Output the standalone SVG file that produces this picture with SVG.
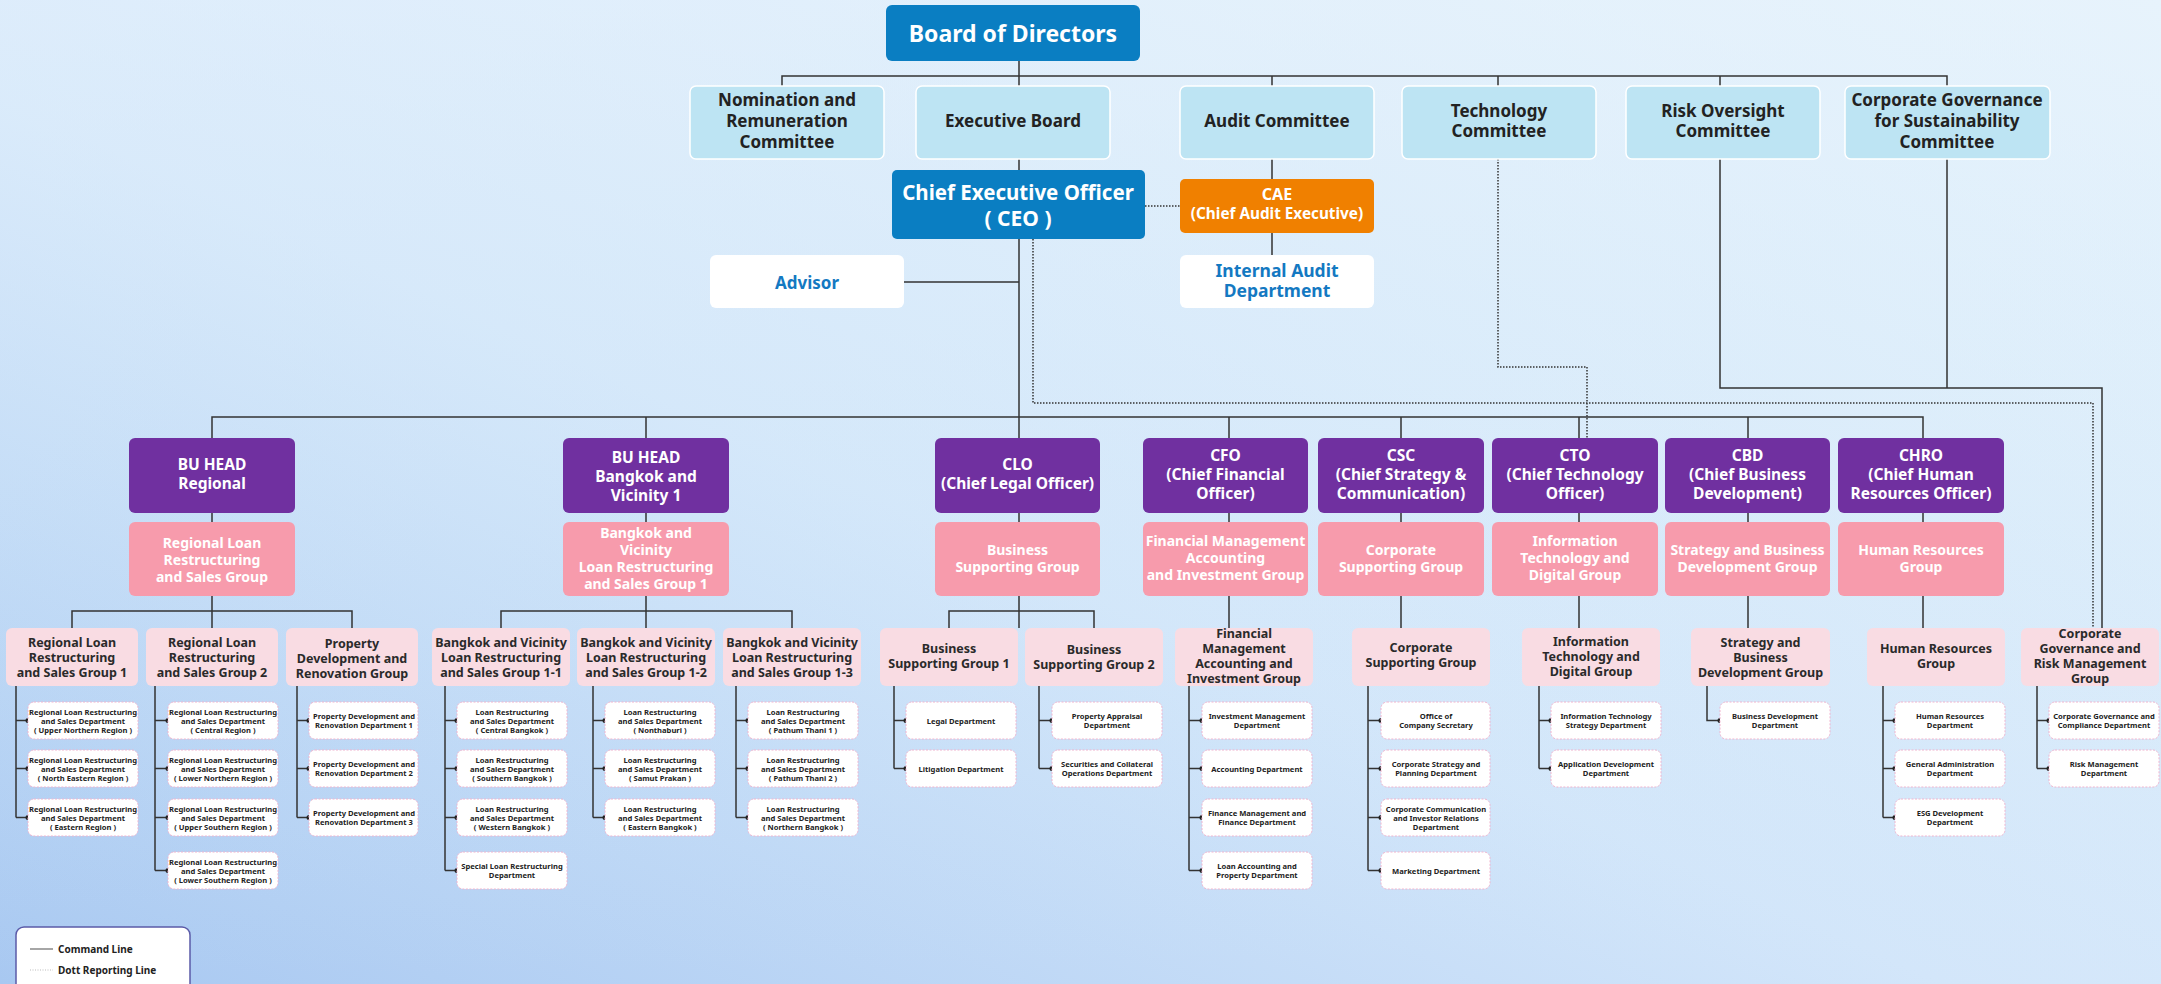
<svg xmlns="http://www.w3.org/2000/svg" width="2161" height="984" viewBox="0 0 2161 984">
<defs>
<linearGradient id="bg" x1="0" y1="1" x2="1" y2="0">
<stop offset="0" stop-color="#A8C8F1"/>
<stop offset="0.45" stop-color="#D3E6FA"/>
<stop offset="1" stop-color="#E8F4FC"/>
</linearGradient>
<linearGradient id="bg2" x1="0" y1="0" x2="0" y2="1">
<stop offset="0" stop-color="#E6F2FC" stop-opacity="0.5"/>
<stop offset="1" stop-color="#C8E6F6" stop-opacity="0"/>
</linearGradient>
</defs>
<style>
.t{font-family:"Noto Sans","Open Sans",sans-serif;font-weight:700;text-anchor:middle;dominant-baseline:central}
.c{font-size:17px;fill:#222}
.p{font-size:15.5px;fill:#fff}
.g{font-size:14px;fill:#fff}
.s{font-size:12.5px;fill:#2a2a2a}
.d{font-size:7.6px;fill:#222}
.ln{stroke:#333;stroke-width:1.5;fill:none}
.dt{stroke:#333;stroke-width:1.5;fill:none;stroke-dasharray:1.5 1.5}
.com{fill:#BDE4F3;stroke:#fff;stroke-width:1.5}
.pur{fill:#7030A0}
.grp{fill:#F79BAC}
.sub{fill:#F9DCE3}
.dep{fill:#fff;stroke:#F0B4CE;stroke-width:1;stroke-dasharray:2 1.5}
.dotc{fill:#222}
</style>
<rect width="2161" height="984" fill="url(#bg)"/>
<rect width="2161" height="984" fill="url(#bg2)"/>

<g id="connectors">
<path class="ln" d="M1019 61V438M782 86V76H1947V86M1272 76V86M1498 76V86M1720 76V86M1272 159V255M904 282H1019M1720 159V388H2102V628M1947 159V388"/>
<path class="ln" d="M212 438V417H1923V438M646 417V438M1229 417V438M1401 417V438M1579 417V438M1748 417V438"/>
<path class="ln" d="M212 513V628M72 628V611H352V628M646 513V628M501 628V611H792V628M1019 513V628M949 628V611H1094V628M1229 513V628M1401 513V628M1579 513V628M1748 513V628M1923 513V628"/>
<path class="dt" d="M1145 206H1180M1033 239V403H2093V628M1498 159V367H1587V438"/>
<path class="ln" d="M16 686V817.5M16 720.5H28M16 768.5H28M16 817.5H28
M155 686V870.5M155 720.5H168M155 768.5H168M155 817.5H168M155 870.5H168
M297 686V817.5M297 720.5H309M297 768.5H309M297 817.5H309
M445 686V870.5M445 720.5H457M445 768.5H457M445 817.5H457M445 870.5H457
M593 686V817.5M593 720.5H605M593 768.5H605M593 817.5H605
M736 686V817.5M736 720.5H748M736 768.5H748M736 817.5H748
M894 686V768.5M894 720.5H906M894 768.5H906
M1039 686V768.5M1039 720.5H1052M1039 768.5H1052
M1189 686V870.5M1189 720.5H1202M1189 768.5H1202M1189 817.5H1202M1189 870.5H1202
M1368 686V870.5M1368 720.5H1381M1368 768.5H1381M1368 817.5H1381M1368 870.5H1381
M1539 686V768.5M1539 720.5H1551M1539 768.5H1551
M1707 686V720.5H1720
M1883 686V817.5M1883 720.5H1895M1883 768.5H1895M1883 817.5H1895
M2037 686V768.5M2037 720.5H2049M2037 768.5H2049"/>
<g class="dotc">
<circle cx="28" cy="720.5" r="2.5"/><circle cx="28" cy="768.5" r="2.5"/><circle cx="28" cy="817.5" r="2.5"/>
<circle cx="168" cy="720.5" r="2.5"/><circle cx="168" cy="768.5" r="2.5"/><circle cx="168" cy="817.5" r="2.5"/><circle cx="168" cy="870.5" r="2.5"/>
<circle cx="309" cy="720.5" r="2.5"/><circle cx="309" cy="768.5" r="2.5"/><circle cx="309" cy="817.5" r="2.5"/>
<circle cx="457" cy="720.5" r="2.5"/><circle cx="457" cy="768.5" r="2.5"/><circle cx="457" cy="817.5" r="2.5"/><circle cx="457" cy="870.5" r="2.5"/>
<circle cx="605" cy="720.5" r="2.5"/><circle cx="605" cy="768.5" r="2.5"/><circle cx="605" cy="817.5" r="2.5"/>
<circle cx="748" cy="720.5" r="2.5"/><circle cx="748" cy="768.5" r="2.5"/><circle cx="748" cy="817.5" r="2.5"/>
<circle cx="906" cy="720.5" r="2.5"/><circle cx="906" cy="768.5" r="2.5"/>
<circle cx="1052" cy="720.5" r="2.5"/><circle cx="1052" cy="768.5" r="2.5"/>
<circle cx="1202" cy="720.5" r="2.5"/><circle cx="1202" cy="768.5" r="2.5"/><circle cx="1202" cy="817.5" r="2.5"/><circle cx="1202" cy="870.5" r="2.5"/>
<circle cx="1381" cy="720.5" r="2.5"/><circle cx="1381" cy="768.5" r="2.5"/><circle cx="1381" cy="817.5" r="2.5"/><circle cx="1381" cy="870.5" r="2.5"/>
<circle cx="1551" cy="720.5" r="2.5"/><circle cx="1551" cy="768.5" r="2.5"/>
<circle cx="1720" cy="720.5" r="2.5"/>
<circle cx="1895" cy="720.5" r="2.5"/><circle cx="1895" cy="768.5" r="2.5"/><circle cx="1895" cy="817.5" r="2.5"/>
<circle cx="2049" cy="720.5" r="2.5"/><circle cx="2049" cy="768.5" r="2.5"/>
</g>
</g>

<g id="board"><rect x="886" y="5" width="254" height="56" rx="6" fill="#0A7EC2"/><text class="t" x="1013" y="33" font-size="23" fill="#fff">Board of Directors</text></g>

<g id="nomination"><rect class="com" x="690" y="86" width="194" height="73" rx="6"/><text class="t c" x="787" y="99">Nomination and</text><text class="t c" x="787" y="120">Remuneration</text><text class="t c" x="787" y="141">Committee</text></g>
<g id="executive-board"><rect class="com" x="916" y="86" width="194" height="73" rx="6"/><text class="t c" x="1013" y="120">Executive Board</text></g>
<g id="audit-committee"><rect class="com" x="1180" y="86" width="194" height="73" rx="6"/><text class="t c" x="1277" y="120">Audit Committee</text></g>
<g id="technology-committee"><rect class="com" x="1402" y="86" width="194" height="73" rx="6"/><text class="t c" x="1499" y="110">Technology</text><text class="t c" x="1499" y="130">Committee</text></g>
<g id="risk-committee"><rect class="com" x="1626" y="86" width="194" height="73" rx="6"/><text class="t c" x="1723" y="110">Risk Oversight</text><text class="t c" x="1723" y="130">Committee</text></g>
<g id="cg-committee"><rect class="com" x="1845" y="86" width="205" height="73" rx="6"/><text class="t c" x="1947" y="99">Corporate Governance</text><text class="t c" x="1947" y="120">for Sustainability</text><text class="t c" x="1947" y="141">Committee</text></g>

<g id="ceo"><rect x="892" y="170" width="253" height="69" rx="5" fill="#0A7EC2"/><text class="t" x="1018" y="192" font-size="20.5" fill="#fff">Chief Executive Officer</text><text class="t" x="1018" y="218" font-size="21" fill="#fff">( CEO )</text></g>
<g id="cae"><rect x="1180" y="179" width="194" height="54" rx="5" fill="#F08000"/><text class="t" x="1277" y="194" font-size="16" fill="#fff">CAE</text><text class="t" x="1277" y="213" font-size="15.3" fill="#fff">(Chief Audit Executive)</text></g>
<g id="internal-audit"><rect x="1180" y="255" width="194" height="53" rx="6" fill="#fff"/><text class="t" x="1277" y="270" font-size="17.5" fill="#1479C2">Internal Audit</text><text class="t" x="1277" y="290" font-size="17.5" fill="#1479C2">Department</text></g>
<g id="advisor"><rect x="710" y="255" width="194" height="53" rx="6" fill="#fff"/><text class="t" x="807" y="282" font-size="17" fill="#1479C2">Advisor</text></g>

<g id="bu-regional"><rect class="pur" x="129" y="438" width="166" height="75" rx="6"/><text class="t p" x="212" y="464">BU HEAD</text><text class="t p" x="212" y="483">Regional</text></g>
<g id="bu-bangkok"><rect class="pur" x="563" y="438" width="166" height="75" rx="6"/><text class="t p" x="646" y="457">BU HEAD</text><text class="t p" x="646" y="476">Bangkok and</text><text class="t p" x="646" y="495">Vicinity 1</text></g>
<g id="clo"><rect class="pur" x="935" y="438" width="165" height="75" rx="6"/><text class="t p" x="1017.5" y="464">CLO</text><text class="t p" x="1017.5" y="483">(Chief Legal Officer)</text></g>
<g id="cfo"><rect class="pur" x="1143" y="438" width="165" height="75" rx="6"/><text class="t p" x="1225.5" y="455">CFO</text><text class="t p" x="1225.5" y="474">(Chief Financial</text><text class="t p" x="1225.5" y="493">Officer)</text></g>
<g id="csc"><rect class="pur" x="1318" y="438" width="166" height="75" rx="6"/><text class="t p" x="1401" y="455">CSC</text><text class="t p" x="1401" y="474">(Chief Strategy &amp;</text><text class="t p" x="1401" y="493">Communication)</text></g>
<g id="cto"><rect class="pur" x="1492" y="438" width="166" height="75" rx="6"/><text class="t p" x="1575" y="455">CTO</text><text class="t p" x="1575" y="474">(Chief Technology</text><text class="t p" x="1575" y="493">Officer)</text></g>
<g id="cbd"><rect class="pur" x="1665" y="438" width="165" height="75" rx="6"/><text class="t p" x="1747.5" y="455">CBD</text><text class="t p" x="1747.5" y="474">(Chief Business</text><text class="t p" x="1747.5" y="493">Development)</text></g>
<g id="chro"><rect class="pur" x="1838" y="438" width="166" height="75" rx="6"/><text class="t p" x="1921" y="455">CHRO</text><text class="t p" x="1921" y="474">(Chief Human</text><text class="t p" x="1921" y="493">Resources Officer)</text></g>

<g id="grp-regional"><rect class="grp" x="129" y="522" width="166" height="74" rx="6"/><text class="t g" x="212" y="542">Regional Loan</text><text class="t g" x="212" y="559">Restructuring</text><text class="t g" x="212" y="576">and Sales Group</text></g>
<g id="grp-bangkok"><rect class="grp" x="563" y="522" width="166" height="74" rx="6"/><text class="t g" x="646" y="532">Bangkok and</text><text class="t g" x="646" y="549">Vicinity</text><text class="t g" x="646" y="566">Loan Restructuring</text><text class="t g" x="646" y="583">and Sales Group 1</text></g>
<g id="grp-business"><rect class="grp" x="935" y="522" width="165" height="74" rx="6"/><text class="t g" x="1017.5" y="549">Business</text><text class="t g" x="1017.5" y="566">Supporting Group</text></g>
<g id="grp-finance"><rect class="grp" x="1143" y="522" width="165" height="74" rx="6"/><text class="t g" x="1225.5" y="540">Financial Management</text><text class="t g" x="1225.5" y="557">Accounting</text><text class="t g" x="1225.5" y="574">and Investment Group</text></g>
<g id="grp-corporate"><rect class="grp" x="1318" y="522" width="166" height="74" rx="6"/><text class="t g" x="1401" y="549">Corporate</text><text class="t g" x="1401" y="566">Supporting Group</text></g>
<g id="grp-it"><rect class="grp" x="1492" y="522" width="166" height="74" rx="6"/><text class="t g" x="1575" y="540">Information</text><text class="t g" x="1575" y="557">Technology and</text><text class="t g" x="1575" y="574">Digital Group</text></g>
<g id="grp-strategy"><rect class="grp" x="1665" y="522" width="165" height="74" rx="6"/><text class="t g" x="1747.5" y="549">Strategy and Business</text><text class="t g" x="1747.5" y="566">Development Group</text></g>
<g id="grp-hr"><rect class="grp" x="1838" y="522" width="166" height="74" rx="6"/><text class="t g" x="1921" y="549">Human Resources</text><text class="t g" x="1921" y="566">Group</text></g>

<g id="sub-r1"><rect class="sub" x="6" y="628" width="132" height="58" rx="6"/><text class="t s" x="72" y="642">Regional Loan</text><text class="t s" x="72" y="657">Restructuring</text><text class="t s" x="72" y="672">and Sales Group 1</text></g>
<g id="sub-r2"><rect class="sub" x="146" y="628" width="132" height="58" rx="6"/><text class="t s" x="212" y="642">Regional Loan</text><text class="t s" x="212" y="657">Restructuring</text><text class="t s" x="212" y="672">and Sales Group 2</text></g>
<g id="sub-r3"><rect class="sub" x="286" y="628" width="132" height="58" rx="6"/><text class="t s" x="352" y="643">Property</text><text class="t s" x="352" y="658">Development and</text><text class="t s" x="352" y="673">Renovation Group</text></g>
<g id="sub-b11"><rect class="sub" x="432" y="628" width="138" height="58" rx="6"/><text class="t s" x="501" y="642">Bangkok and Vicinity</text><text class="t s" x="501" y="657">Loan Restructuring</text><text class="t s" x="501" y="672">and Sales Group 1-1</text></g>
<g id="sub-b12"><rect class="sub" x="577" y="628" width="138" height="58" rx="6"/><text class="t s" x="646" y="642">Bangkok and Vicinity</text><text class="t s" x="646" y="657">Loan Restructuring</text><text class="t s" x="646" y="672">and Sales Group 1-2</text></g>
<g id="sub-b13"><rect class="sub" x="723" y="628" width="138" height="58" rx="6"/><text class="t s" x="792" y="642">Bangkok and Vicinity</text><text class="t s" x="792" y="657">Loan Restructuring</text><text class="t s" x="792" y="672">and Sales Group 1-3</text></g>
<g id="sub-bsg1"><rect class="sub" x="880" y="628" width="138" height="58" rx="6"/><text class="t s" x="949" y="648">Business</text><text class="t s" x="949" y="663">Supporting Group 1</text></g>
<g id="sub-bsg2"><rect class="sub" x="1025" y="628" width="138" height="58" rx="6"/><text class="t s" x="1094" y="649">Business</text><text class="t s" x="1094" y="664">Supporting Group 2</text></g>
<g id="sub-fmai"><rect class="sub" x="1175" y="628" width="138" height="58" rx="6"/><text class="t s" x="1244" y="633">Financial</text><text class="t s" x="1244" y="648">Management</text><text class="t s" x="1244" y="663">Accounting and</text><text class="t s" x="1244" y="678">Investment Group</text></g>
<g id="sub-csg"><rect class="sub" x="1352" y="628" width="138" height="58" rx="6"/><text class="t s" x="1421" y="647">Corporate</text><text class="t s" x="1421" y="662">Supporting Group</text></g>
<g id="sub-it"><rect class="sub" x="1522" y="628" width="138" height="58" rx="6"/><text class="t s" x="1591" y="641">Information</text><text class="t s" x="1591" y="656">Technology and</text><text class="t s" x="1591" y="671">Digital Group</text></g>
<g id="sub-sbd"><rect class="sub" x="1691" y="628" width="139" height="58" rx="6"/><text class="t s" x="1760.5" y="642">Strategy and</text><text class="t s" x="1760.5" y="657">Business</text><text class="t s" x="1760.5" y="672">Development Group</text></g>
<g id="sub-hr"><rect class="sub" x="1867" y="628" width="138" height="58" rx="6"/><text class="t s" x="1936" y="648">Human Resources</text><text class="t s" x="1936" y="663">Group</text></g>
<g id="sub-cgrm"><rect class="sub" x="2021" y="628" width="138" height="58" rx="6"/><text class="t s" x="2090" y="633">Corporate</text><text class="t s" x="2090" y="648">Governance and</text><text class="t s" x="2090" y="663">Risk Management</text><text class="t s" x="2090" y="678">Group</text></g>

<g id="dept-r1-1"><rect class="dep" x="28" y="702" width="110" height="37" rx="6"/><text class="t d" x="83" y="711.5">Regional Loan Restructuring</text><text class="t d" x="83" y="720.5">and Sales Department</text><text class="t d" x="83" y="729.5">( Upper Northern Region )</text></g>
<g id="dept-r1-2"><rect class="dep" x="28" y="750" width="110" height="37" rx="6"/><text class="t d" x="83" y="759.5">Regional Loan Restructuring</text><text class="t d" x="83" y="768.5">and Sales Department</text><text class="t d" x="83" y="777.5">( North Eastern Region )</text></g>
<g id="dept-r1-3"><rect class="dep" x="28" y="799" width="110" height="37" rx="6"/><text class="t d" x="83" y="808.5">Regional Loan Restructuring</text><text class="t d" x="83" y="817.5">and Sales Department</text><text class="t d" x="83" y="826.5">( Eastern Region )</text></g>

<g id="dept-r2-1"><rect class="dep" x="168" y="702" width="110" height="37" rx="6"/><text class="t d" x="223" y="711.5">Regional Loan Restructuring</text><text class="t d" x="223" y="720.5">and Sales Department</text><text class="t d" x="223" y="729.5">( Central Region )</text></g>
<g id="dept-r2-2"><rect class="dep" x="168" y="750" width="110" height="37" rx="6"/><text class="t d" x="223" y="759.5">Regional Loan Restructuring</text><text class="t d" x="223" y="768.5">and Sales Department</text><text class="t d" x="223" y="777.5">( Lower Northern Region )</text></g>
<g id="dept-r2-3"><rect class="dep" x="168" y="799" width="110" height="37" rx="6"/><text class="t d" x="223" y="808.5">Regional Loan Restructuring</text><text class="t d" x="223" y="817.5">and Sales Department</text><text class="t d" x="223" y="826.5">( Upper Southern Region )</text></g>
<g id="dept-r2-4"><rect class="dep" x="168" y="852" width="110" height="37" rx="6"/><text class="t d" x="223" y="861.5">Regional Loan Restructuring</text><text class="t d" x="223" y="870.5">and Sales Department</text><text class="t d" x="223" y="879.5">( Lower Southern Region )</text></g>

<g id="dept-r3-1"><rect class="dep" x="309" y="702" width="109" height="37" rx="6"/><text class="t d" x="364" y="716">Property Development and</text><text class="t d" x="364" y="725">Renovation Department 1</text></g>
<g id="dept-r3-2"><rect class="dep" x="309" y="750" width="109" height="37" rx="6"/><text class="t d" x="364" y="764">Property Development and</text><text class="t d" x="364" y="773">Renovation Department 2</text></g>
<g id="dept-r3-3"><rect class="dep" x="309" y="799" width="109" height="37" rx="6"/><text class="t d" x="364" y="813">Property Development and</text><text class="t d" x="364" y="822">Renovation Department 3</text></g>

<g id="dept-b11-1"><rect class="dep" x="457" y="702" width="110" height="37" rx="6"/><text class="t d" x="512" y="711.5">Loan Restructuring</text><text class="t d" x="512" y="720.5">and Sales Department</text><text class="t d" x="512" y="729.5">( Central Bangkok )</text></g>
<g id="dept-b11-2"><rect class="dep" x="457" y="750" width="110" height="37" rx="6"/><text class="t d" x="512" y="759.5">Loan Restructuring</text><text class="t d" x="512" y="768.5">and Sales Department</text><text class="t d" x="512" y="777.5">( Southern Bangkok )</text></g>
<g id="dept-b11-3"><rect class="dep" x="457" y="799" width="110" height="37" rx="6"/><text class="t d" x="512" y="808.5">Loan Restructuring</text><text class="t d" x="512" y="817.5">and Sales Department</text><text class="t d" x="512" y="826.5">( Western Bangkok )</text></g>
<g id="dept-b11-4"><rect class="dep" x="457" y="852" width="110" height="37" rx="6"/><text class="t d" x="512" y="866">Special Loan Restructuring</text><text class="t d" x="512" y="875">Department</text></g>

<g id="dept-b12-1"><rect class="dep" x="605" y="702" width="110" height="37" rx="6"/><text class="t d" x="660" y="711.5">Loan Restructuring</text><text class="t d" x="660" y="720.5">and Sales Department</text><text class="t d" x="660" y="729.5">( Nonthaburi )</text></g>
<g id="dept-b12-2"><rect class="dep" x="605" y="750" width="110" height="37" rx="6"/><text class="t d" x="660" y="759.5">Loan Restructuring</text><text class="t d" x="660" y="768.5">and Sales Department</text><text class="t d" x="660" y="777.5">( Samut Prakan )</text></g>
<g id="dept-b12-3"><rect class="dep" x="605" y="799" width="110" height="37" rx="6"/><text class="t d" x="660" y="808.5">Loan Restructuring</text><text class="t d" x="660" y="817.5">and Sales Department</text><text class="t d" x="660" y="826.5">( Eastern Bangkok )</text></g>

<g id="dept-b13-1"><rect class="dep" x="748" y="702" width="110" height="37" rx="6"/><text class="t d" x="803" y="711.5">Loan Restructuring</text><text class="t d" x="803" y="720.5">and Sales Department</text><text class="t d" x="803" y="729.5">( Pathum Thani 1 )</text></g>
<g id="dept-b13-2"><rect class="dep" x="748" y="750" width="110" height="37" rx="6"/><text class="t d" x="803" y="759.5">Loan Restructuring</text><text class="t d" x="803" y="768.5">and Sales Department</text><text class="t d" x="803" y="777.5">( Pathum Thani 2 )</text></g>
<g id="dept-b13-3"><rect class="dep" x="748" y="799" width="110" height="37" rx="6"/><text class="t d" x="803" y="808.5">Loan Restructuring</text><text class="t d" x="803" y="817.5">and Sales Department</text><text class="t d" x="803" y="826.5">( Northern Bangkok )</text></g>

<g id="dept-legal"><rect class="dep" x="906" y="702" width="110" height="37" rx="6"/><text class="t d" x="961" y="720.5">Legal Department</text></g>
<g id="dept-litigation"><rect class="dep" x="906" y="750" width="110" height="37" rx="6"/><text class="t d" x="961" y="768.5">Litigation Department</text></g>
<g id="dept-appraisal"><rect class="dep" x="1052" y="702" width="110" height="37" rx="6"/><text class="t d" x="1107" y="716">Property Appraisal</text><text class="t d" x="1107" y="725">Department</text></g>
<g id="dept-securities"><rect class="dep" x="1052" y="750" width="110" height="37" rx="6"/><text class="t d" x="1107" y="764">Securities and Collateral</text><text class="t d" x="1107" y="773">Operations Department</text></g>

<g id="dept-investment"><rect class="dep" x="1202" y="702" width="110" height="37" rx="6"/><text class="t d" x="1257" y="716">Investment Management</text><text class="t d" x="1257" y="725">Department</text></g>
<g id="dept-accounting"><rect class="dep" x="1202" y="750" width="110" height="37" rx="6"/><text class="t d" x="1257" y="768.5">Accounting Department</text></g>
<g id="dept-finance"><rect class="dep" x="1202" y="799" width="110" height="37" rx="6"/><text class="t d" x="1257" y="813">Finance Management and</text><text class="t d" x="1257" y="822">Finance Department</text></g>
<g id="dept-loan-accounting"><rect class="dep" x="1202" y="852" width="110" height="37" rx="6"/><text class="t d" x="1257" y="866">Loan Accounting and</text><text class="t d" x="1257" y="875">Property Department</text></g>

<g id="dept-secretary"><rect class="dep" x="1381" y="702" width="109" height="37" rx="6"/><text class="t d" x="1436" y="716">Office of</text><text class="t d" x="1436" y="725">Company Secretary</text></g>
<g id="dept-strategy-planning"><rect class="dep" x="1381" y="750" width="109" height="37" rx="6"/><text class="t d" x="1436" y="764">Corporate Strategy and</text><text class="t d" x="1436" y="773">Planning Department</text></g>
<g id="dept-communication"><rect class="dep" x="1381" y="799" width="109" height="37" rx="6"/><text class="t d" x="1436" y="808.5">Corporate Communication</text><text class="t d" x="1436" y="817.5">and Investor Relations</text><text class="t d" x="1436" y="826.5">Department</text></g>
<g id="dept-marketing"><rect class="dep" x="1381" y="852" width="109" height="37" rx="6"/><text class="t d" x="1436" y="870.5">Marketing Department</text></g>

<g id="dept-it-strategy"><rect class="dep" x="1551" y="702" width="110" height="37" rx="6"/><text class="t d" x="1606" y="716">Information Technology</text><text class="t d" x="1606" y="725">Strategy Department</text></g>
<g id="dept-app-dev"><rect class="dep" x="1551" y="750" width="110" height="37" rx="6"/><text class="t d" x="1606" y="764">Application Development</text><text class="t d" x="1606" y="773">Department</text></g>

<g id="dept-bizdev"><rect class="dep" x="1720" y="702" width="110" height="37" rx="6"/><text class="t d" x="1775" y="716">Business Development</text><text class="t d" x="1775" y="725">Department</text></g>

<g id="dept-hr"><rect class="dep" x="1895" y="702" width="110" height="37" rx="6"/><text class="t d" x="1950" y="716">Human Resources</text><text class="t d" x="1950" y="725">Department</text></g>
<g id="dept-ga"><rect class="dep" x="1895" y="750" width="110" height="37" rx="6"/><text class="t d" x="1950" y="764">General Administration</text><text class="t d" x="1950" y="773">Department</text></g>
<g id="dept-esg"><rect class="dep" x="1895" y="799" width="110" height="37" rx="6"/><text class="t d" x="1950" y="813">ESG Development</text><text class="t d" x="1950" y="822">Department</text></g>

<g id="dept-compliance"><rect class="dep" x="2049" y="702" width="110" height="37" rx="6"/><text class="t d" x="2104" y="716">Corporate Governance and</text><text class="t d" x="2104" y="725">Compliance Department</text></g>
<g id="dept-risk"><rect class="dep" x="2049" y="750" width="110" height="37" rx="6"/><text class="t d" x="2104" y="764">Risk Management</text><text class="t d" x="2104" y="773">Department</text></g>

<g id="legend">
<rect x="16" y="927" width="174" height="80" rx="8" fill="#fff" stroke="#5B5BA8" stroke-width="1.5"/>
<line x1="30" y1="949" x2="53" y2="949" stroke="#888" stroke-width="1.5"/>
<text x="58" y="949" font-family="Noto Sans, Open Sans, sans-serif" font-weight="700" font-size="10" fill="#222" dominant-baseline="central">Command Line</text>
<line x1="30" y1="970" x2="53" y2="970" stroke="#bbb" stroke-width="1.2" stroke-dasharray="1 1.5"/>
<text x="58" y="970" font-family="Noto Sans, Open Sans, sans-serif" font-weight="700" font-size="10" fill="#222" dominant-baseline="central">Dott Reporting Line</text>
</g>
</svg>
